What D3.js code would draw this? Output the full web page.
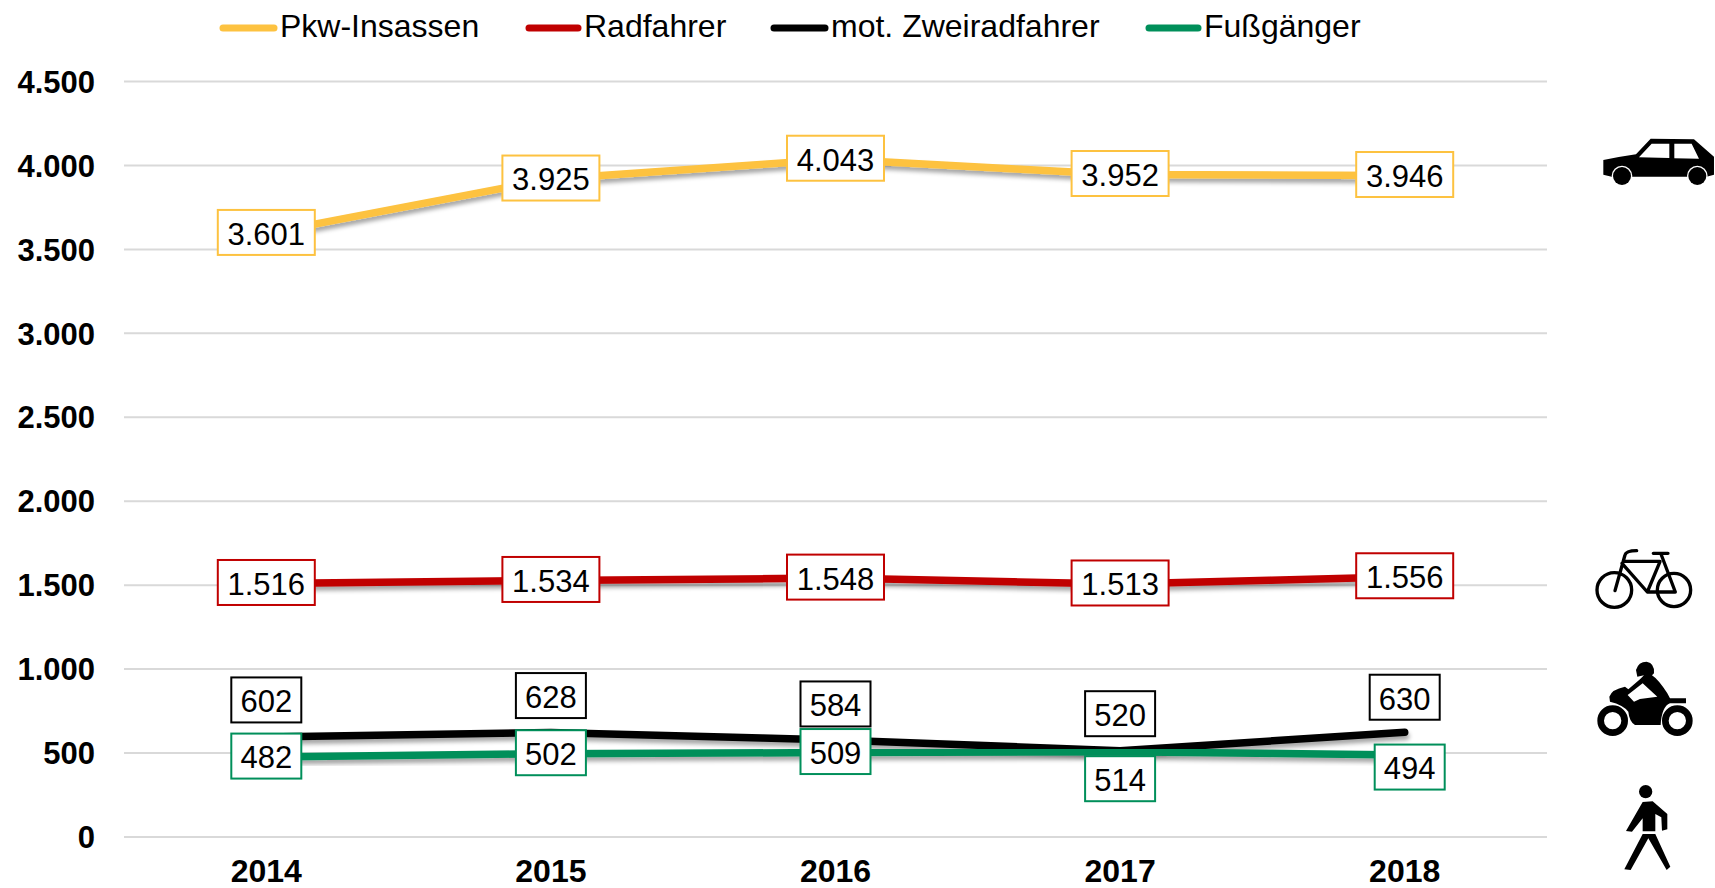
<!DOCTYPE html>
<html><head><meta charset="utf-8">
<script src="https://cdn.jsdelivr.net/npm/d3@7"></script>
<style>
html,body{margin:0;padding:0;background:#fff}
svg{display:block}
text{font-family:"Liberation Sans",Arial,sans-serif;fill:#000}
</style></head><body>
<svg id="c" width="1715" height="888"></svg>
<script>
const years = ["2014","2015","2016","2017","2018"];
const yTicks = [0,500,1000,1500,2000,2500,3000,3500,4000,4500];
const seriesNames = ["Pkw-Insassen","Radfahrer","mot. Zweiradfahrer","Fußgänger"];
const pkw = [3601,3925,4043,3952,3946];
const rad = [1516,1534,1548,1513,1556];
const mot = [602,628,584,520,630];
const fuss = [482,502,509,514,494];
const colors = ["#fdc240","#c00000","#000000","#008f5a"];
const labelDx = [[0,0,0,0,0],[0,0,0,0,0],[0,0,0,0,0],[0,0,0,0,5]];
const labelDy = [[0,0,0,0,0],[0,0,0,0,0],[-36,-36,-35,-36,-34],[0,0,0,28,13]];
const legendX = [220,526,771,1146];
const legendW = [57,55,57,55];

const svg = d3.select("#c");
const x = d3.scaleBand().domain(years).range([124,1547]);
const y = d3.scaleLinear().domain([0,4500]).range([836.5,81]);
const de = d3.formatLocale({decimal:",",thousands:".",grouping:[3],currency:["","€"]});
const fmt = de.format(",d");
const F = 32, FV = 31;

const defs = svg.append("defs");
const f = defs.append("filter").attr("id","sh").attr("x","-5%").attr("y","-50%").attr("width","110%").attr("height","300%").attr("filterUnits","objectBoundingBox");
f.append("feDropShadow").attr("dx",1).attr("dy",4).attr("stdDeviation",2.2).attr("flood-color","#000").attr("flood-opacity",.35);

// y axis
const gy = svg.append("g").attr("transform","translate(124,0)")
  .call(d3.axisLeft(y).tickValues(yTicks).tickFormat(fmt).tickSize(-1423).tickPadding(29));
gy.select(".domain").remove();
gy.selectAll(".tick line").attr("stroke","#d9d9d9").attr("stroke-width",2);
gy.selectAll(".tick text").attr("font-size",FV).attr("font-weight","bold").attr("dy","0.36em")
  .style("font-family",'"Liberation Sans",Arial,sans-serif').attr("fill","#000");

// x axis
const gx = svg.append("g").attr("transform","translate(0,836.5)")
  .call(d3.axisBottom(x).tickSize(0).tickPadding(23));
gx.select(".domain").remove();
gx.selectAll(".tick text").attr("font-size",F).attr("font-weight","bold").attr("dy","0.71em")
  .style("font-family",'"Liberation Sans",Arial,sans-serif').attr("fill","#000");

// lines
const marks = svg.append("g").attr("transform","translate(0,1.5)");
const labels = svg.append("g").attr("transform","translate(0,0.5)");
const cx = d => x(d)+x.bandwidth()/2;
const line = d3.line().x((d,i)=>cx(years[i])).y(d=>y(d));
const all = [pkw,rad,mot,fuss];
all.forEach((s,k)=>{
  marks.append("path").datum(s).attr("d",line).attr("fill","none")
    .attr("stroke",colors[k]).attr("stroke-width",7.5).attr("stroke-linecap","round").attr("stroke-linejoin","round")
    .attr("filter","url(#sh)");
});

// value labels
all.forEach((s,k)=>{
  s.forEach((v,i)=>{
    const t = fmt(v);
    const w = t.length>3 ? 97 : 70;
    const h = 45;
    const g = labels.append("g").attr("transform",`translate(${cx(years[i])+labelDx[k][i]},${y(v)+labelDy[k][i]})`);
    g.append("rect").attr("x",-w/2).attr("y",-h/2).attr("width",w).attr("height",h)
      .attr("fill","#fff").attr("stroke",colors[k]).attr("stroke-width",2);
    g.append("text").attr("text-anchor","middle").attr("dy","0.4em").attr("font-size",FV).text(t);
  });
});

// legend
seriesNames.forEach((n,i)=>{
  svg.append("line").attr("x1",legendX[i]+3).attr("x2",legendX[i]+legendW[i]-3).attr("y1",28).attr("y2",28)
    .attr("stroke",colors[i]).attr("stroke-width",7).attr("stroke-linecap","round");
  svg.append("text").attr("x",legendX[i]+legendW[i]+3).attr("y",37).attr("font-size",F).text(n);
});

// pictograms (drawn in 3x crop space)
const car = svg.append("g").attr("transform","translate(1540,100) scale(0.3333)");
car.append("path").attr("fill","#000").attr("d","M190 180 Q240 170 288 163 L332 116 L462 118 L522 170 L522 224 L500 230 L445 230 L280 230 L215 230 L190 224 Z");
car.append("path").attr("fill","#fff").attr("d","M297 172 L335 131 L388 131 L388 174 Z M403 131 L455 131 L477 176 L403 175 Z");
[[246,228],[472,228]].forEach(c=>{
  car.append("circle").attr("cx",c[0]).attr("cy",c[1]).attr("r",31).attr("fill","#fff");
  car.append("circle").attr("cx",c[0]).attr("cy",c[1]).attr("r",27).attr("fill","#000");
});

const ic = svg.append("g").attr("transform","translate(1560,530) scale(0.3333)");
// bicycle
const bk = ic.append("g").attr("fill","none").attr("stroke","#000").attr("stroke-width",10).attr("stroke-linecap","round").attr("stroke-linejoin","round");
bk.append("circle").attr("cx",163).attr("cy",180).attr("r",52);
bk.append("circle").attr("cx",342).attr("cy",180).attr("r",50);
bk.append("path").attr("d","M165 182 L195 75 Q198 62 230 62 M186 100 L262 186 L346 186 L303 72 M190 94 L300 94 M280 70 L324 70 M262 186 L300 95");
// motorcycle
ic.append("circle").attr("cx",158).attr("cy",572).attr("r",36).attr("fill","none").attr("stroke","#000").attr("stroke-width",20);
ic.append("circle").attr("cx",352).attr("cy",572).attr("r",36).attr("fill","none").attr("stroke","#000").attr("stroke-width",20);
ic.append("path").attr("fill","#000").attr("d","M148 500 Q155 478 195 470 L205 478 L240 448 L252 436 L232 440 L228 420 Q235 395 260 395 Q285 400 282 430 L276 436 Q295 448 322 490 L330 505 L378 505 L378 520 L330 520 Q305 530 302 585 L225 585 Q208 575 205 545 Q190 525 150 515 Z");
ic.append("path").attr("fill","#fff").attr("d","M203 495 L248 460 L292 500 L240 507 L222 515 Z");
// pedestrian
ic.append("circle").attr("cx",257).attr("cy",785).attr("r",20).attr("fill","#000");
ic.append("path").attr("fill","#000").attr("d","M248 816 L278 814 L322 852 L322 898 L306 902 L304 862 L286 852 L286 904 L248 904 L248 865 L216 905 L198 903 Z");
ic.append("path").attr("fill","#000").attr("d","M248 912 L286 912 L331 1010 L320 1020 L265 925 L212 1020 L193 1018 Z");
</script>
</body></html>
